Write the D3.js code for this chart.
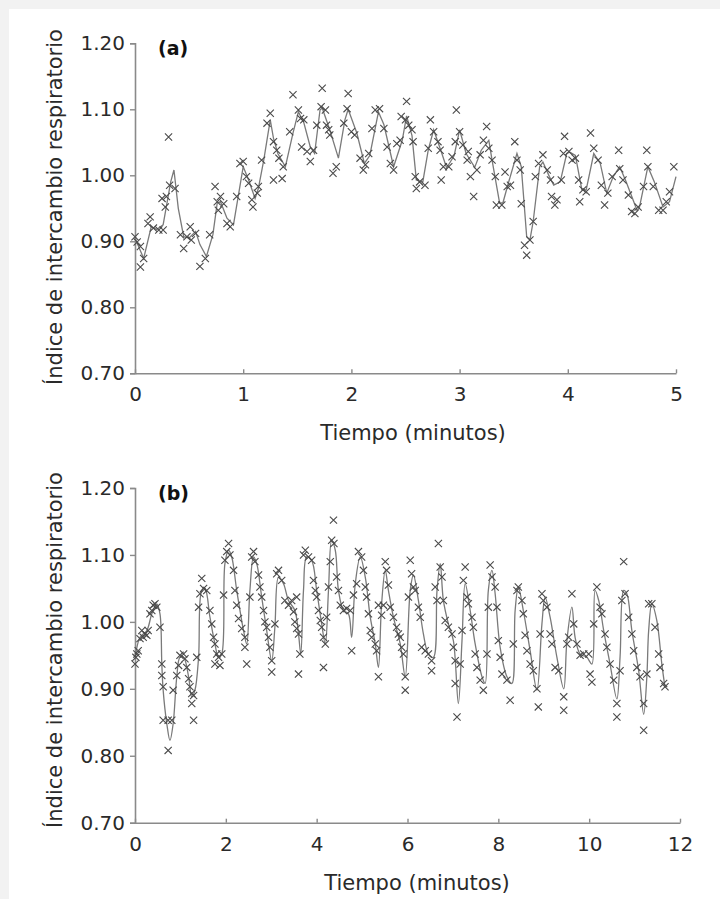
<!DOCTYPE html>
<html>
<head>
<meta charset="utf-8">
<script src="https://cdn.jsdelivr.net/npm/d3@7"></script>
<style>
  body { margin: 0; background: #f2f2f2; }
  svg { display: block; font-family: "DejaVu Sans", Verdana, sans-serif; }
</style>
</head>
<body>
<div id="chart"></div>
<script>
// Tick values
const Y_TICKS = [0.7, 0.8, 0.9, 1.0, 1.1, 1.2];
const X_TICKS_A = [0, 1, 2, 3, 4, 5];
const X_TICKS_B = [0, 2, 4, 6, 8, 10, 12];
const Y_LABEL = "Índice de intercambio respiratorio";
const X_LABEL = "Tiempo (minutos)";

// Panel (a): fitted line [minutes, RER]
const lineA = [
  [0.00,0.905],[0.08,0.874],[0.15,0.922],[0.20,0.918],[0.26,0.925],[0.33,0.990],[0.36,1.008],
  [0.40,0.950],[0.45,0.907],[0.50,0.905],[0.56,0.915],[0.60,0.895],[0.66,0.877],[0.72,0.910],
  [0.76,0.958],[0.79,0.960],[0.85,0.935],[0.91,0.925],[1.00,1.013],[1.05,0.993],[1.11,0.965],
  [1.14,0.980],[1.19,1.023],[1.25,1.084],[1.28,1.056],[1.32,1.033],[1.39,1.013],[1.46,1.064],
  [1.51,1.096],[1.56,1.080],[1.62,1.043],[1.66,1.033],[1.71,1.099],[1.73,1.102],[1.80,1.069],
  [1.88,1.026],[1.94,1.084],[1.97,1.100],[2.05,1.064],[2.12,1.018],[2.17,1.030],[2.25,1.096],
  [2.30,1.077],[2.39,1.013],[2.47,1.053],[2.51,1.090],[2.56,1.060],[2.60,0.993],[2.66,0.990],
  [2.71,1.038],[2.76,1.069],[2.83,1.036],[2.88,1.011],[2.95,1.030],[3.00,1.069],[3.06,1.033],
  [3.14,1.012],[3.20,1.038],[3.27,1.053],[3.30,1.023],[3.37,0.958],[3.40,0.958],[3.45,0.988],
  [3.53,1.033],[3.57,1.013],[3.62,0.907],[3.65,0.902],[3.68,0.930],[3.74,1.013],[3.77,1.020],
  [3.83,0.998],[3.87,0.985],[3.93,0.990],[3.99,1.033],[4.02,1.035],[4.07,1.030],[4.13,0.978],
  [4.17,0.978],[4.24,1.033],[4.30,1.018],[4.36,0.973],[4.42,0.998],[4.48,1.013],[4.54,0.990],
  [4.64,0.947],[4.66,0.950],[4.74,1.013],[4.80,0.990],[4.88,0.952],[4.94,0.960],[5.00,0.998]
];

// Panel (a): measured points
const marksA = [
  [0.00,0.907],[0.02,0.899],[0.05,0.892],[0.08,0.874],[0.05,0.861],[0.12,0.927],[0.14,0.937],
  [0.17,0.920],[0.22,0.917],[0.26,0.917],[0.25,0.965],[0.28,0.952],[0.29,0.968],[0.31,1.058],
  [0.32,0.985],[0.37,0.980],[0.42,0.910],[0.45,0.889],[0.48,0.907],[0.51,0.922],[0.52,0.902],
  [0.56,0.912],[0.60,0.862],[0.65,0.874],[0.69,0.910],[0.74,0.983],[0.76,0.960],[0.77,0.947],
  [0.79,0.968],[0.82,0.957],[0.85,0.927],[0.88,0.922],[0.94,0.968],[0.97,1.018],[1.00,1.021],
  [1.03,0.998],[1.05,0.988],[1.08,0.963],[1.09,0.952],[1.13,0.973],[1.14,0.983],[1.17,1.023],
  [1.22,1.079],[1.25,1.094],[1.28,1.051],[1.31,1.038],[1.33,1.026],[1.37,1.013],[1.28,0.993],
  [1.36,0.995],[1.43,1.066],[1.46,1.122],[1.51,1.099],[1.53,1.086],[1.56,1.084],[1.54,1.043],
  [1.59,1.036],[1.62,1.021],[1.65,1.038],[1.68,1.076],[1.73,1.132],[1.72,1.104],[1.76,1.099],
  [1.77,1.076],[1.79,1.069],[1.80,1.061],[1.83,1.003],[1.86,1.013],[1.93,1.079],[1.96,1.101],
  [1.97,1.124],[2.00,1.066],[2.03,1.061],[2.08,1.026],[2.11,1.008],[2.13,1.016],[2.16,1.033],
  [2.19,1.071],[2.22,1.099],[2.26,1.101],[2.30,1.071],[2.33,1.043],[2.36,1.018],[2.39,1.008],
  [2.42,1.048],[2.45,1.053],[2.50,1.084],[2.51,1.112],[2.46,1.089],[2.53,1.076],[2.56,1.069],
  [2.57,1.051],[2.59,0.998],[2.60,0.980],[2.63,0.990],[2.68,0.985],[2.71,1.041],[2.73,1.084],
  [2.76,1.066],[2.80,1.051],[2.82,1.038],[2.83,0.993],[2.85,1.013],[2.90,1.013],[2.93,1.028],
  [2.96,1.051],[2.97,1.099],[3.00,1.066],[3.03,1.046],[3.07,1.023],[3.08,1.036],[3.10,0.998],
  [3.13,0.968],[3.16,1.008],[3.19,1.031],[3.22,1.053],[3.25,1.074],[3.27,1.041],[3.30,1.023],
  [3.33,0.998],[3.34,0.955],[3.39,0.955],[3.42,1.005],[3.44,0.983],[3.47,0.985],[3.51,1.051],
  [3.53,1.023],[3.56,1.008],[3.57,0.957],[3.60,0.894],[3.62,0.879],[3.65,0.902],[3.68,0.930],
  [3.70,0.998],[3.73,1.018],[3.77,1.031],[3.81,1.008],[3.84,0.993],[3.85,0.968],[3.88,0.955],
  [3.90,0.963],[3.94,0.993],[3.96,1.033],[3.97,1.059],[4.01,1.036],[4.04,1.023],[4.07,1.026],
  [4.10,0.993],[4.11,0.960],[4.14,0.978],[4.17,0.975],[4.21,1.064],[4.24,1.041],[4.28,1.023],
  [4.31,0.985],[4.34,0.955],[4.37,0.973],[4.41,0.998],[4.47,1.038],[4.48,1.010],[4.51,0.993],
  [4.56,0.970],[4.59,0.945],[4.62,0.942],[4.65,0.952],[4.70,0.983],[4.73,1.038],[4.74,1.013],
  [4.79,0.983],[4.84,0.947],[4.88,0.947],[4.91,0.960],[4.94,0.975],[4.98,1.013]
];

// Panel (b): fitted line
const lineB = [
  [0.00,0.945],[0.11,0.977],[0.26,0.987],[0.37,1.012],[0.48,1.027],[0.55,1.012],[0.59,0.938],
  [0.62,0.898],[0.70,0.848],[0.77,0.823],[0.84,0.848],[0.92,0.918],[0.99,0.947],[1.07,0.947],
  [1.18,0.918],[1.25,0.888],[1.32,0.898],[1.40,0.947],[1.47,1.047],[1.54,1.050],[1.65,1.007],
  [1.76,0.967],[1.84,0.947],[1.91,0.952],[1.98,1.087],[2.06,1.107],[2.13,1.097],[2.24,1.047],
  [2.39,0.987],[2.46,0.967],[2.53,1.047],[2.61,1.097],[2.68,1.087],[2.79,1.037],[2.90,0.987],
  [3.01,0.942],[3.08,0.992],[3.16,1.067],[3.27,1.057],[3.38,1.032],[3.52,1.017],[3.60,0.982],
  [3.65,0.952],[3.71,1.047],[3.78,1.097],[3.89,1.092],[4.00,1.047],[4.11,0.997],[4.19,0.967],
  [4.26,1.047],[4.33,1.122],[4.41,1.107],[4.48,1.047],[4.59,1.017],[4.70,1.012],[4.77,0.977],
  [4.85,1.057],[4.96,1.097],[5.07,1.067],[5.18,1.007],[5.29,0.967],[5.36,0.932],[5.43,1.027],
  [5.51,1.077],[5.58,1.047],[5.69,1.007],[5.84,0.967],[5.95,0.918],[6.06,1.047],[6.13,1.070],
  [6.24,1.032],[6.35,0.982],[6.46,0.952],[6.57,0.947],[6.65,1.047],[6.72,1.087],[6.79,1.032],
  [6.90,0.997],[7.01,0.972],[7.12,0.878],[7.20,0.972],[7.27,1.057],[7.38,1.017],[7.49,0.967],
  [7.64,0.918],[7.71,0.908],[7.78,1.047],[7.86,1.077],[7.93,1.042],[8.04,0.962],[8.19,0.918],
  [8.30,0.908],[8.37,1.017],[8.44,1.052],[8.55,1.017],[8.70,0.957],[8.85,0.898],[8.96,0.997],
  [9.03,1.037],[9.14,1.007],[9.29,0.947],[9.44,0.900],[9.51,0.972],[9.62,1.022],[9.69,0.977],
  [9.80,0.952],[9.95,0.947],[10.06,0.937],[10.13,1.047],[10.21,1.032],[10.32,0.987],[10.46,0.937],
  [10.61,0.885],[10.68,0.947],[10.76,1.047],[10.83,1.042],[10.94,0.987],[11.09,0.927],[11.20,0.862],
  [11.27,0.918],[11.31,0.987],[11.38,1.027],[11.49,1.002],[11.60,0.937],[11.67,0.902]
];

// Panel (b): measured points
const marksB = [
  [0.00,0.937],[0.02,0.947],[0.04,0.952],[0.07,0.957],[0.11,0.975],[0.15,0.987],[0.18,0.977],
  [0.22,0.982],[0.26,0.980],[0.29,0.987],[0.33,1.012],[0.37,1.017],[0.40,1.025],[0.44,1.027],
  [0.48,1.022],[0.55,0.992],[0.59,0.937],[0.59,0.920],[0.62,0.903],[0.62,0.853],[0.73,0.853],
  [0.73,0.808],[0.81,0.853],[0.84,0.898],[0.92,0.920],[0.96,0.935],[0.99,0.950],[1.07,0.952],
  [1.10,0.945],[1.14,0.932],[1.18,0.915],[1.21,0.903],[1.25,0.893],[1.25,0.878],[1.29,0.890],
  [1.29,0.853],[1.36,0.947],[1.40,1.022],[1.43,1.042],[1.47,1.065],[1.51,1.050],[1.58,1.047],
  [1.65,1.017],[1.69,0.997],[1.73,0.977],[1.76,0.967],[1.80,0.952],[1.76,0.937],[1.84,0.947],
  [1.87,0.935],[1.91,0.952],[1.95,1.040],[1.98,1.092],[2.02,1.105],[2.06,1.117],[2.09,1.100],
  [2.17,1.077],[2.20,1.047],[2.24,1.025],[2.28,1.005],[2.35,0.990],[2.42,0.977],[2.42,0.962],
  [2.46,0.937],[2.53,1.037],[2.57,1.097],[2.61,1.105],[2.64,1.090],[2.72,1.070],[2.75,1.052],
  [2.79,1.037],[2.83,1.017],[2.86,1.000],[2.90,0.992],[2.94,0.977],[2.97,0.962],[3.01,0.942],
  [3.01,0.925],[3.08,0.997],[3.12,1.072],[3.16,1.077],[3.23,1.062],[3.30,1.032],[3.38,1.025],
  [3.45,1.032],[3.49,1.015],[3.52,1.000],[3.56,0.990],[3.60,0.982],[3.56,1.037],[3.63,0.952],
  [3.60,0.922],[3.71,1.100],[3.75,1.107],[3.82,1.097],[3.89,1.092],[3.93,1.062],[3.97,1.047],
  [4.00,1.037],[4.04,1.017],[4.08,1.002],[4.11,0.992],[4.15,0.977],[4.19,0.967],[4.15,0.932],
  [4.22,1.007],[4.26,1.052],[4.30,1.090],[4.33,1.122],[4.37,1.152],[4.38,1.117],[4.44,1.067],
  [4.48,1.047],[4.52,1.025],[4.59,1.017],[4.66,1.020],[4.74,1.017],[4.77,0.957],[4.81,1.040],
  [4.88,1.057],[4.92,1.105],[4.99,1.097],[5.03,1.077],[5.07,1.052],[5.10,1.037],[5.14,1.012],
  [5.18,0.987],[5.21,0.977],[5.29,0.967],[5.32,0.957],[5.36,0.918],[5.36,1.025],[5.43,1.010],
  [5.47,1.025],[5.51,1.090],[5.54,1.077],[5.58,1.055],[5.62,1.022],[5.69,1.007],[5.76,0.992],
  [5.80,0.982],[5.84,0.977],[5.87,0.962],[5.91,0.952],[5.95,0.918],[5.95,0.898],[6.02,1.037],
  [6.06,1.092],[6.09,1.072],[6.13,1.052],[6.17,1.047],[6.24,1.022],[6.28,1.007],[6.31,0.962],
  [6.39,0.957],[6.46,0.952],[6.53,0.942],[6.53,0.927],[6.61,1.052],[6.65,1.032],[6.68,1.117],
  [6.72,1.082],[6.76,1.067],[6.79,1.032],[6.83,1.002],[6.90,0.992],[6.98,0.982],[7.01,0.962],
  [7.05,0.942],[7.05,0.908],[7.09,0.858],[7.16,0.937],[7.20,0.987],[7.23,1.062],[7.27,1.082],
  [7.31,1.037],[7.34,1.027],[7.42,1.007],[7.45,0.992],[7.49,0.952],[7.53,0.932],[7.60,0.913],
  [7.67,0.898],[7.75,0.952],[7.78,1.022],[7.82,1.085],[7.86,1.067],[7.93,1.052],[7.97,1.022],
  [8.00,0.972],[8.04,0.947],[8.08,0.922],[8.19,0.913],[8.26,0.883],[8.33,0.967],[8.41,1.047],
  [8.44,1.052],[8.52,1.032],[8.55,1.012],[8.59,0.980],[8.63,0.957],[8.70,0.937],[8.77,0.927],
  [8.85,0.900],[8.88,0.873],[8.92,0.982],[8.96,1.042],[8.99,1.032],[9.07,1.022],[9.14,0.982],
  [9.18,0.967],[9.25,0.932],[9.33,0.927],[9.44,0.888],[9.44,0.868],[9.51,0.967],[9.55,0.977],
  [9.62,1.042],[9.66,0.997],[9.73,0.967],[9.80,0.950],[9.88,0.952],[9.99,0.952],[10.02,0.922],
  [10.06,0.910],[10.10,0.997],[10.17,1.052],[10.24,1.022],[10.28,1.012],[10.35,0.982],[10.39,0.962],
  [10.46,0.937],[10.54,0.913],[10.61,0.878],[10.61,0.858],[10.68,0.927],[10.72,1.032],[10.76,1.090],
  [10.79,1.042],[10.87,1.007],[10.94,0.982],[10.98,0.957],[11.05,0.932],[11.12,0.918],[11.20,0.878],
  [11.20,0.838],[11.27,0.922],[11.31,1.027],[11.38,1.027],[11.45,0.992],[11.53,0.952],[11.56,0.932],
  [11.64,0.908],[11.67,0.903]
];

// Layout
const W = 720, H = 899;
const svg = d3.select("#chart").append("svg")
    .attr("width", W)
    .attr("height", H);

// white panel over grey page
svg.append("rect").attr("width", W).attr("height", H).attr("fill", "#f2f2f2");
svg.append("rect").attr("x", 9).attr("y", 9).attr("width", W - 9).attr("height", H - 9).attr("fill", "#fff");

const fmtY = d3.format(".2f");
const fmtX = d3.format("d");

function drawPanel(opt) {
    const x = d3.scaleLinear().domain(opt.xDomain).range([opt.left, opt.right]);
    const y = d3.scaleLinear().domain([0.7, 1.2]).range([opt.bottom, opt.top]);
    const g = svg.append("g");

    // y axis
    g.append("g")
        .attr("transform", `translate(${opt.left},0)`)
        .call(d3.axisLeft(y).tickValues(Y_TICKS).tickFormat(fmtY).tickSize(5).tickPadding(5))
        .call(a => a.select(".domain").attr("stroke", "#8a8a8a").attr("stroke-width", 1.6))
        .call(a => a.selectAll(".tick line").attr("stroke", "#8a8a8a").attr("stroke-width", 1.4))
        .call(a => a.selectAll(".tick text").attr("fill", "#2a2a2a").attr("font-size", 20)
            .attr("font-family", "DejaVu Sans"));

    // x axis (ticks point into the plot)
    g.append("g")
        .attr("transform", `translate(0,${opt.bottom})`)
        .call(d3.axisBottom(x).tickValues(opt.xTicks).tickFormat(fmtX).tickSize(0).tickPadding(14))
        .call(a => a.select(".domain").attr("stroke", "#8a8a8a").attr("stroke-width", 1.6))
        .call(a => a.selectAll(".tick line").attr("y2", -4).attr("stroke", "#8a8a8a").attr("stroke-width", 1.4))
        .call(a => a.selectAll(".tick text").attr("fill", "#2a2a2a").attr("font-size", 20)
            .attr("font-family", "DejaVu Sans"));

    // fitted line
    g.append("path")
        .datum(opt.line)
        .attr("fill", "none")
        .attr("stroke", "#7a7a7a")
        .attr("stroke-width", 1.3)
        .attr("d", d3.line().x(d => x(d[0])).y(d => y(d[1])).curve(opt.curve));

    // crosses
    const s = 3.6;
    g.append("g").selectAll("path")
        .data(opt.marks)
        .join("path")
        .attr("transform", d => `translate(${x(d[0])},${y(d[1])})`)
        .attr("d", `M${-s},${-s}L${s},${s}M${-s},${s}L${s},${-s}`)
        .attr("stroke", "#4a4a4a")
        .attr("stroke-width", 1.1)
        .attr("fill", "none");

    // panel tag
    g.append("text")
        .attr("x", 158).attr("y", opt.top + 12)
        .attr("font-size", 19).attr("font-weight", "bold").attr("fill", "#111")
        .text(opt.tag);

    // axis titles
    g.append("text")
        .attr("x", opt.xLabelX).attr("y", opt.bottom + 67)
        .attr("text-anchor", "middle").attr("font-size", 21).attr("fill", "#2a2a2a")
        .text(X_LABEL);

    g.append("text")
        .attr("transform", `translate(62,${opt.yLabelY}) rotate(-90)`)
        .attr("text-anchor", "middle").attr("font-size", 21).attr("fill", "#2a2a2a")
        .text(Y_LABEL);
}

drawPanel({
    xDomain: [0, 5], xTicks: X_TICKS_A, left: 135, right: 676, top: 43.3, bottom: 373.3,
    line: lineA, marks: marksA, curve: d3.curveLinear, tag: "(a)",
    xLabelX: 413, yLabelY: 207
});

drawPanel({
    xDomain: [0, 12], xTicks: X_TICKS_B, left: 135, right: 680, top: 488, bottom: 822.7,
    line: lineB, marks: marksB, curve: d3.curveCatmullRom.alpha(0.5), tag: "(b)",
    xLabelX: 417, yLabelY: 650
});
</script>
</body>
</html>
